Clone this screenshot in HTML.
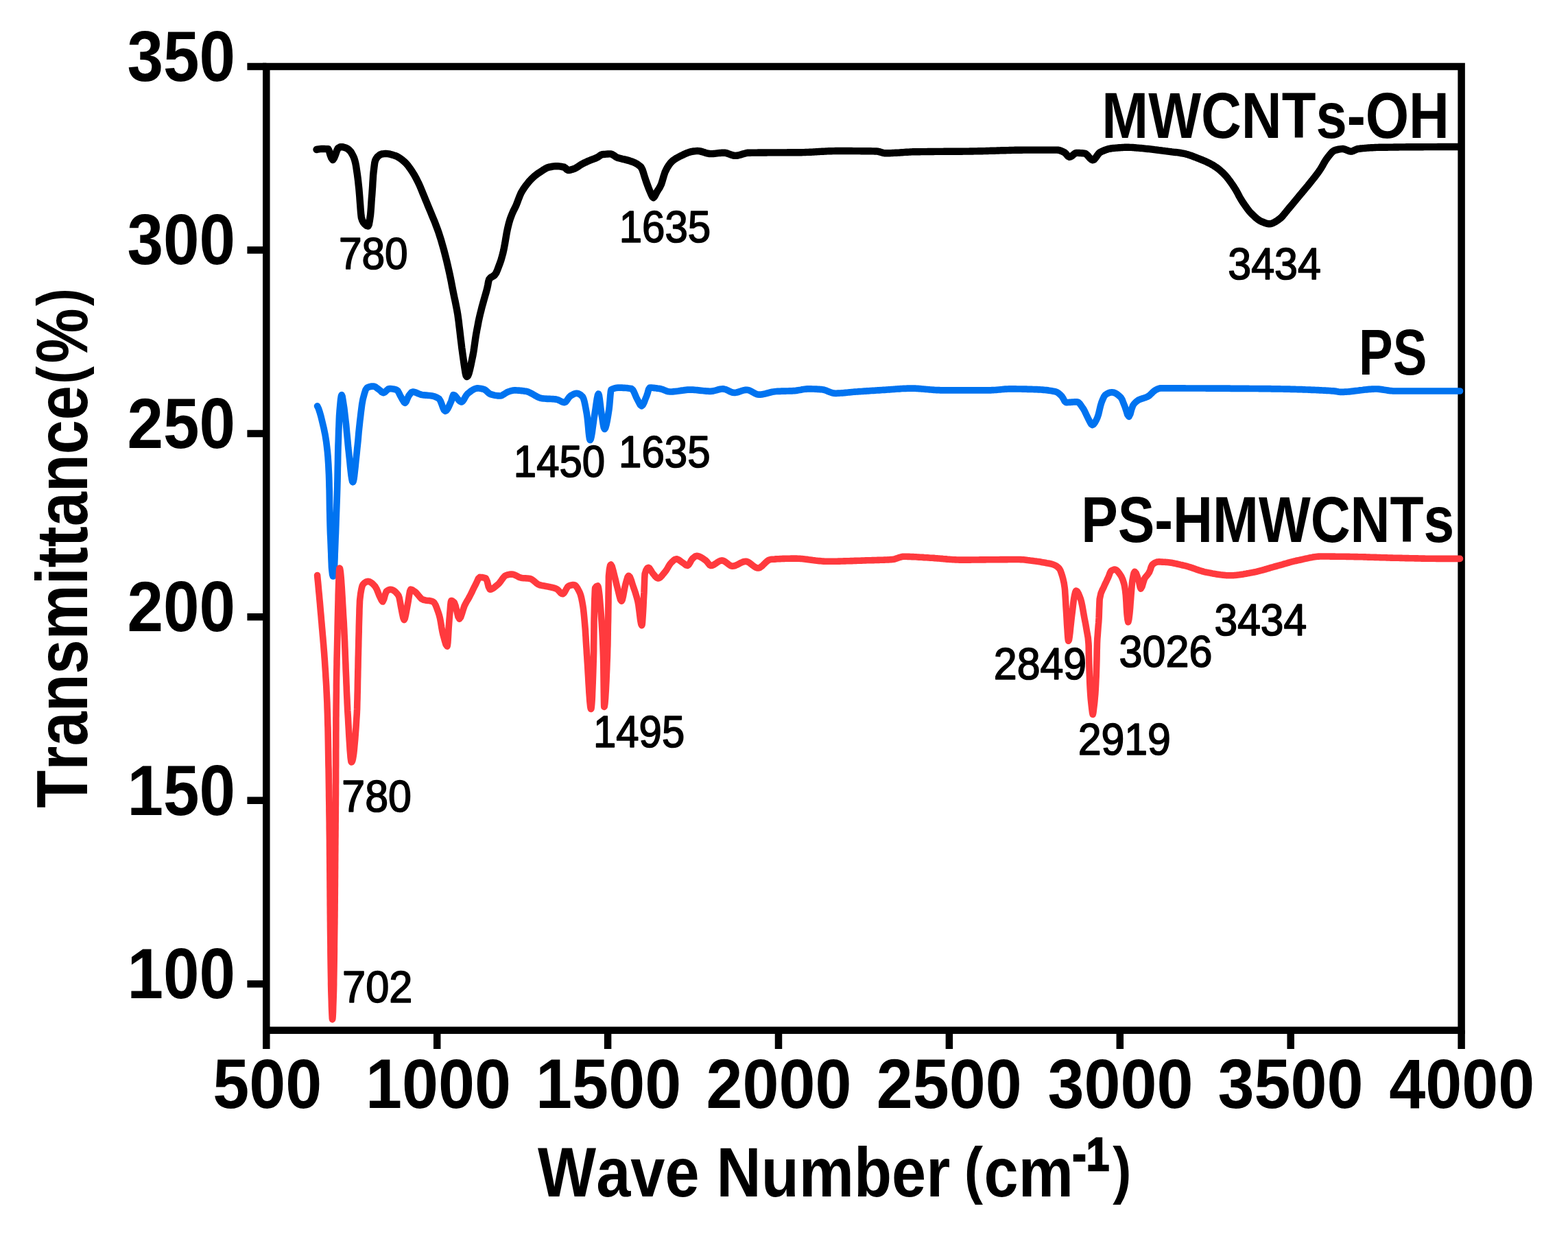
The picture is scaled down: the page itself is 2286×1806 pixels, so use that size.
<!DOCTYPE html>
<html lang="en"><head><meta charset="utf-8"><title>FTIR spectra</title>
<style>
html,body{margin:0;padding:0;background:#fff;}
body{width:2286px;height:1806px;overflow:hidden;}
svg{display:block;}
text{font-family:"Liberation Sans",sans-serif;font-size:100px;font-kerning:none;fill:#000;}
.b{font-weight:700;}
.r{font-weight:400;stroke:#000;stroke-width:2.6px;stroke-linejoin:round;}
.ax{stroke:#000;stroke-width:10.5;fill:none;stroke-linecap:butt;}
.c{fill:none;stroke-linejoin:round;stroke-linecap:round;}
</style></head><body>
<svg width="2286" height="1806" viewBox="0 0 2286 1806">
<rect width="2286" height="1806" fill="#fff"/>

<rect class="ax" x="388.3" y="97.0" width="1742.3" height="1404.8"/>
<path class="ax" d="M360.4 97.0H388.3 M360.4 364.4H388.3 M360.4 631.9H388.3 M360.4 899.3H388.3 M360.4 1166.8H388.3 M360.4 1434.2H388.3 M388.3 1501.8V1529 M637.2 1501.8V1529 M886.1 1501.8V1529 M1135.0 1501.8V1529 M1383.9 1501.8V1529 M1632.8 1501.8V1529 M1881.7 1501.8V1529 M2130.6 1501.8V1529"/>
<text class="b" transform="matrix(0.9448 0 0 1.0291 185.43 117.80)">350</text>
<text class="b" transform="matrix(0.9448 0 0 1.0291 185.43 385.25)">300</text>
<text class="b" transform="matrix(0.9448 0 0 1.0291 185.43 652.70)">250</text>
<text class="b" transform="matrix(0.9448 0 0 1.0291 185.43 920.15)">200</text>
<text class="b" transform="matrix(0.9448 0 0 1.0291 185.43 1187.60)">150</text>
<text class="b" transform="matrix(0.9448 0 0 1.0291 185.43 1455.05)">100</text>
<text class="b" transform="matrix(0.9532 0 0 1.0291 310.17 1614.80)">500</text>
<text class="b" transform="matrix(0.9532 0 0 1.0291 533.02 1614.80)">1000</text>
<text class="b" transform="matrix(0.9532 0 0 1.0291 781.12 1614.80)">1500</text>
<text class="b" transform="matrix(0.9532 0 0 1.0291 1029.47 1614.80)">2000</text>
<text class="b" transform="matrix(0.9532 0 0 1.0291 1277.67 1614.80)">2500</text>
<text class="b" transform="matrix(0.9532 0 0 1.0291 1527.53 1614.80)">3000</text>
<text class="b" transform="matrix(0.9532 0 0 1.0291 1775.43 1614.80)">3500</text>
<text class="b" transform="matrix(0.9532 0 0 1.0291 2025.21 1614.80)">4000</text>
<text class="b" transform="rotate(-90) scale(0.9007 1.0538)"><tspan x="-1307.52" y="120.52" font-size="100.0px">Transmittance</tspan><tspan x="-621.45" y="112.29" font-size="85.8px">(</tspan><tspan x="-588.02" y="120.52" font-size="100.0px">%</tspan><tspan x="-495.13" y="112.29" font-size="85.8px">)</tspan></text>
<text class="b" transform="matrix(0.9016 0 0 1.0218 0 0)"><tspan x="869.65" y="1706.49" font-size="100.0px">Wave Number </tspan><tspan x="1559.07" y="1700.08" font-size="90.8px">(</tspan><tspan x="1591.18" y="1706.49" font-size="100.0px">cm</tspan><tspan x="1734.22" y="1669.60" font-size="66.9px" stroke="#000" stroke-width="2.4">-1</tspan><tspan x="1799.18" y="1700.08" font-size="90.8px">)</tspan></text>
<text class="b" transform="matrix(0.8144 0 0 0.9448 1606.35 201.00)">MWCNTs-OH</text>
<text class="b" transform="matrix(0.7443 0 0 0.9375 1981.02 546.00)">PS</text>
<text class="b" transform="matrix(0.8028 0 0 0.9520 1576.23 790.30)">PS-HMWCNTs</text>
<text class="r" transform="matrix(0.6045 0 0 0.6424 493.90 392.40)">780</text>
<text class="r" transform="matrix(0.6001 0 0 0.6424 902.73 352.50)">1635</text>
<text class="r" transform="matrix(0.6100 0 0 0.6424 1790.28 406.60)">3434</text>
<text class="r" transform="matrix(0.5992 0 0 0.6424 748.84 694.70)">1450</text>
<text class="r" transform="matrix(0.6001 0 0 0.6424 902.03 680.60)">1635</text>
<text class="r" transform="matrix(0.6090 0 0 0.6424 498.28 1182.80)">780</text>
<text class="r" transform="matrix(0.6133 0 0 0.6424 499.06 1460.60)">702</text>
<text class="r" transform="matrix(0.5986 0 0 0.6424 865.04 1088.60)">1495</text>
<text class="r" transform="matrix(0.6084 0 0 0.6424 1448.84 990.30)">2849</text>
<text class="r" transform="matrix(0.6084 0 0 0.6424 1571.64 1099.90)">2919</text>
<text class="r" transform="matrix(0.6105 0 0 0.6424 1631.57 971.80)">3026</text>
<text class="r" transform="matrix(0.6049 0 0 0.6424 1770.60 925.80)">3434</text>
<path class="c" stroke="#000" stroke-width="10.4" d="M461.5 218.0 L463.3 217.7 L465.2 217.4 L467.0 217.2 L468.9 217.0 L470.7 217.0 L472.7 217.0 L474.6 217.1 L476.6 217.2 L478.6 217.3 L480.0 220.4 L481.3 225.1 L483.2 230.2 L485.2 233.0 L487.2 230.2 L489.2 225.1 L490.9 220.1 L492.7 216.3 L494.2 215.2 L495.6 214.4 L497.1 214.1 L499.1 214.2 L501.1 214.6 L503.0 215.2 L505.0 215.9 L506.7 216.8 L508.5 218.2 L510.2 219.9 L511.7 221.7 L513.1 224.1 L514.6 226.9 L516.0 229.9 L517.3 233.9 L518.2 237.5 L519.1 242.1 L519.9 247.5 L520.8 253.6 L521.7 260.2 L522.2 264.5 L522.7 269.4 L523.3 274.8 L523.8 280.6 L524.3 286.6 L524.7 292.3 L525.2 298.5 L525.6 304.1 L526.0 309.4 L526.5 314.3 L526.9 317.3 L528.4 321.7 L529.8 324.4 L531.3 326.1 L533.1 327.8 L534.8 329.1 L536.6 329.6 L537.8 327.2 L538.9 321.2 L540.1 312.9 L540.5 308.2 L541.0 301.8 L541.4 295.4 L541.8 289.6 L542.3 283.8 L542.7 277.8 L543.1 272.4 L543.4 266.5 L543.8 260.8 L544.1 255.6 L544.5 251.5 L545.4 243.8 L546.2 237.6 L547.1 233.9 L548.6 230.9 L550.0 228.9 L551.5 227.5 L553.3 226.1 L555.0 225.1 L556.8 224.5 L558.3 224.3 L559.8 224.1 L561.4 224.0 L562.9 224.0 L564.8 224.1 L566.7 224.3 L568.6 224.7 L570.4 225.2 L572.3 225.8 L574.2 226.4 L576.1 227.0 L578.0 227.7 L579.9 228.7 L581.8 229.8 L583.6 231.0 L585.5 232.4 L587.4 233.9 L589.3 235.5 L591.0 237.1 L592.8 239.0 L594.5 241.1 L596.3 243.4 L598.0 245.8 L599.8 248.4 L601.5 251.0 L603.2 253.7 L604.9 256.6 L606.6 259.8 L608.3 263.1 L610.0 266.5 L611.7 270.2 L613.4 274.1 L615.1 278.3 L616.8 282.5 L618.5 286.6 L620.3 291.0 L622.2 295.5 L624.0 300.0 L626.0 304.8 L628.0 309.5 L629.9 314.2 L631.9 319.0 L633.9 323.8 L635.8 328.9 L637.8 334.2 L639.8 339.8 L641.5 345.1 L643.3 350.8 L645.0 356.8 L646.8 363.1 L648.5 369.6 L649.9 375.1 L651.3 380.8 L652.7 386.7 L654.1 392.9 L655.5 399.2 L656.7 404.8 L657.9 410.7 L659.0 416.7 L660.2 422.8 L661.4 428.8 L662.6 434.5 L663.8 439.9 L664.9 445.5 L666.1 451.5 L667.3 458.4 L668.0 463.5 L668.8 469.3 L669.5 475.5 L670.3 481.9 L671.0 488.0 L671.7 494.1 L672.5 500.4 L673.2 506.6 L674.0 512.4 L674.7 517.6 L675.7 524.4 L676.7 531.4 L677.7 538.1 L678.6 543.7 L679.6 547.6 L680.6 549.0 L682.1 547.7 L683.6 544.0 L685.0 538.6 L686.5 532.0 L688.0 524.8 L689.5 517.6 L690.4 512.6 L691.3 506.6 L692.2 500.1 L693.1 493.7 L694.0 488.0 L695.2 481.4 L696.4 475.2 L697.5 469.2 L698.7 463.6 L699.9 458.4 L701.4 452.4 L702.8 446.8 L704.3 441.5 L705.8 436.2 L707.3 430.9 L708.8 425.7 L710.3 420.0 L711.3 415.2 L712.2 410.2 L713.2 407.0 L714.9 405.0 L716.5 403.9 L718.2 403.0 L719.8 402.0 L721.5 400.5 L723.4 397.6 L725.2 393.5 L727.0 388.7 L728.9 383.6 L730.4 379.3 L731.8 374.4 L733.3 368.8 L734.3 364.4 L735.3 359.3 L736.3 354.0 L737.1 349.1 L738.0 343.9 L738.8 339.2 L739.9 333.7 L741.1 328.7 L742.2 324.4 L743.6 319.7 L745.1 315.7 L746.5 312.0 L748.4 307.7 L750.3 303.9 L752.2 299.9 L754.1 295.3 L755.9 290.3 L757.8 285.5 L759.6 281.4 L761.4 278.2 L763.2 275.4 L764.9 272.8 L766.7 270.4 L768.5 268.1 L770.4 265.7 L772.3 263.5 L774.3 261.4 L776.2 259.5 L778.1 257.7 L780.0 256.1 L781.8 254.7 L783.7 253.3 L785.5 252.0 L787.4 250.8 L789.2 249.6 L791.1 248.4 L792.9 247.2 L794.8 246.1 L796.6 245.1 L798.4 244.3 L800.3 243.7 L802.1 243.3 L804.0 243.0 L805.8 242.7 L807.7 242.4 L809.5 242.3 L811.4 242.2 L813.2 242.2 L815.1 242.4 L817.0 242.6 L818.8 242.9 L820.6 243.3 L822.5 243.7 L824.5 245.1 L826.4 247.1 L828.4 248.1 L830.2 248.0 L832.0 247.6 L833.7 247.1 L835.5 246.5 L837.3 245.9 L839.1 245.1 L841.0 244.0 L842.8 242.8 L844.7 241.5 L846.5 240.3 L848.4 239.2 L850.2 238.2 L852.1 237.3 L854.0 236.5 L855.8 235.6 L857.6 234.8 L859.5 234.0 L861.4 233.2 L863.2 232.5 L865.0 231.9 L866.9 231.2 L868.8 230.4 L870.6 229.6 L872.5 228.5 L874.3 227.1 L876.1 225.9 L878.0 225.2 L880.0 225.0 L882.0 224.8 L884.0 224.6 L886.0 224.5 L888.0 224.4 L890.0 224.4 L892.0 224.8 L893.9 225.9 L895.9 227.2 L897.8 228.6 L899.8 229.6 L901.7 230.3 L903.7 230.8 L905.6 231.3 L907.5 231.8 L909.5 232.2 L911.4 232.6 L913.3 233.1 L915.2 233.6 L917.2 234.1 L919.1 234.8 L921.0 235.5 L923.0 236.2 L924.9 237.0 L926.8 237.9 L928.7 239.0 L930.6 240.3 L932.6 241.8 L934.5 243.6 L936.4 247.0 L938.2 252.4 L940.1 258.7 L942.0 264.4 L944.0 269.9 L946.0 275.3 L948.0 280.0 L949.5 283.5 L951.0 286.6 L952.5 288.0 L954.2 286.5 L955.8 283.3 L957.5 280.0 L959.1 277.4 L960.8 274.9 L962.4 272.1 L964.0 268.8 L965.8 263.2 L967.7 256.5 L969.5 251.0 L971.4 247.1 L973.3 243.6 L975.2 240.6 L977.1 238.1 L979.0 236.0 L980.8 234.3 L982.7 232.9 L984.5 231.6 L986.3 230.5 L988.2 229.5 L990.0 228.5 L991.9 227.5 L993.8 226.6 L995.7 225.7 L997.6 224.8 L999.5 223.9 L1001.5 223.1 L1003.4 222.4 L1005.3 221.8 L1007.2 221.2 L1009.1 220.8 L1011.0 220.5 L1012.9 220.3 L1014.8 220.1 L1016.7 220.0 L1018.6 220.1 L1020.6 220.4 L1022.5 220.9 L1024.4 221.4 L1026.3 222.0 L1028.3 222.7 L1030.2 223.2 L1032.1 223.7 L1034.1 224.0 L1036.0 224.1 L1038.0 224.1 L1039.9 224.0 L1041.8 223.8 L1043.8 223.6 L1045.8 223.4 L1047.7 223.2 L1049.7 223.0 L1051.6 222.8 L1053.5 222.7 L1055.5 222.7 L1057.3 222.8 L1059.2 223.2 L1061.0 223.8 L1062.8 224.5 L1064.7 225.1 L1066.5 225.8 L1068.3 226.4 L1070.2 226.8 L1072.0 226.9 L1074.0 226.8 L1075.9 226.5 L1077.9 226.0 L1079.8 225.5 L1081.8 224.8 L1083.8 224.2 L1085.7 223.7 L1087.7 223.2 L1089.6 222.8 L1091.6 222.7 L1093.6 222.7 L1095.5 222.6 L1097.5 222.6 L1099.5 222.6 L1101.5 222.6 L1103.4 222.6 L1105.4 222.5 L1107.4 222.5 L1109.3 222.5 L1111.3 222.5 L1113.3 222.5 L1115.3 222.5 L1117.2 222.5 L1119.2 222.4 L1121.2 222.4 L1123.1 222.4 L1125.1 222.4 L1127.1 222.4 L1129.0 222.4 L1131.0 222.4 L1133.0 222.4 L1135.0 222.4 L1136.9 222.4 L1138.9 222.4 L1140.9 222.4 L1142.8 222.4 L1144.8 222.4 L1146.8 222.4 L1148.8 222.3 L1150.7 222.3 L1152.7 222.3 L1154.7 222.3 L1156.6 222.3 L1158.6 222.3 L1160.6 222.3 L1162.6 222.2 L1164.5 222.2 L1166.5 222.2 L1168.5 222.2 L1170.5 222.1 L1172.4 222.1 L1174.4 222.0 L1176.4 221.9 L1178.4 221.9 L1180.4 221.8 L1182.4 221.7 L1184.3 221.6 L1186.3 221.5 L1188.3 221.4 L1190.3 221.2 L1192.3 221.1 L1194.2 221.0 L1196.2 220.9 L1198.2 220.8 L1200.2 220.7 L1202.2 220.6 L1204.2 220.5 L1206.1 220.4 L1208.1 220.3 L1210.1 220.2 L1212.1 220.2 L1214.1 220.1 L1216.1 220.1 L1218.0 220.0 L1220.0 220.0 L1222.0 220.0 L1224.0 220.0 L1226.0 220.0 L1227.9 220.0 L1229.9 220.0 L1231.9 220.0 L1233.9 220.0 L1235.9 220.0 L1237.9 220.0 L1239.8 220.0 L1241.8 220.0 L1243.8 220.1 L1245.8 220.1 L1247.8 220.1 L1249.8 220.1 L1251.7 220.1 L1253.7 220.1 L1255.7 220.2 L1257.7 220.2 L1259.7 220.2 L1261.6 220.2 L1263.6 220.3 L1265.6 220.3 L1267.6 220.3 L1269.6 220.3 L1271.6 220.4 L1273.5 220.4 L1275.5 220.5 L1277.5 220.5 L1279.5 220.7 L1281.5 221.1 L1283.5 221.6 L1285.4 222.2 L1287.4 222.8 L1289.4 223.2 L1291.4 223.3 L1293.4 223.3 L1295.4 223.3 L1297.3 223.2 L1299.3 223.1 L1301.3 223.0 L1303.3 222.9 L1305.3 222.8 L1307.2 222.7 L1309.2 222.6 L1311.2 222.5 L1313.2 222.3 L1315.2 222.2 L1317.2 222.1 L1319.1 221.9 L1321.1 221.8 L1323.1 221.7 L1325.1 221.6 L1327.1 221.5 L1329.0 221.4 L1331.0 221.3 L1333.0 221.3 L1335.0 221.3 L1337.0 221.2 L1339.0 221.2 L1340.9 221.2 L1342.9 221.1 L1344.9 221.1 L1346.9 221.1 L1348.9 221.1 L1350.8 221.1 L1352.8 221.0 L1354.8 221.0 L1356.8 221.0 L1358.8 221.0 L1360.8 221.0 L1362.8 220.9 L1364.7 220.9 L1366.7 220.9 L1368.7 220.9 L1370.7 220.9 L1372.7 220.9 L1374.7 220.9 L1376.6 220.8 L1378.6 220.8 L1380.6 220.8 L1382.6 220.8 L1384.6 220.8 L1386.5 220.8 L1388.5 220.8 L1390.5 220.8 L1392.5 220.7 L1394.5 220.7 L1396.5 220.7 L1398.5 220.7 L1400.4 220.7 L1402.4 220.7 L1404.4 220.6 L1406.4 220.6 L1408.4 220.6 L1410.3 220.6 L1412.3 220.6 L1414.3 220.5 L1416.3 220.5 L1418.3 220.5 L1420.3 220.4 L1422.2 220.4 L1424.2 220.4 L1426.2 220.3 L1428.2 220.3 L1430.2 220.2 L1432.2 220.2 L1434.1 220.1 L1436.1 220.1 L1438.1 220.0 L1440.1 220.0 L1442.1 219.9 L1444.1 219.8 L1446.0 219.8 L1448.0 219.7 L1450.0 219.7 L1452.0 219.6 L1454.0 219.5 L1456.0 219.5 L1457.9 219.4 L1459.9 219.3 L1461.9 219.3 L1463.9 219.2 L1465.9 219.2 L1467.9 219.1 L1469.8 219.1 L1471.8 219.0 L1473.8 219.0 L1475.8 218.9 L1477.8 218.9 L1479.8 218.8 L1481.8 218.8 L1483.7 218.7 L1485.7 218.7 L1487.7 218.7 L1489.7 218.7 L1491.7 218.6 L1493.6 218.6 L1495.6 218.6 L1497.6 218.6 L1499.6 218.6 L1501.6 218.6 L1503.6 218.6 L1505.5 218.6 L1507.5 218.6 L1509.5 218.6 L1511.5 218.6 L1513.5 218.6 L1515.4 218.6 L1517.4 218.6 L1519.4 218.6 L1521.4 218.6 L1523.4 218.6 L1525.4 218.6 L1527.3 218.6 L1529.3 218.6 L1531.3 218.6 L1533.3 218.6 L1535.3 218.6 L1537.2 218.6 L1539.2 218.6 L1541.2 218.6 L1543.0 218.7 L1544.7 219.1 L1546.5 219.7 L1548.3 220.5 L1550.0 221.3 L1551.8 222.2 L1553.7 223.8 L1555.5 226.0 L1557.3 227.9 L1559.2 228.8 L1560.9 228.4 L1562.7 227.3 L1564.4 225.8 L1566.1 224.4 L1567.9 223.3 L1569.6 222.9 L1571.6 222.9 L1573.5 223.0 L1575.5 223.1 L1577.5 223.2 L1579.4 223.4 L1581.4 223.6 L1583.4 224.5 L1585.4 226.3 L1587.3 228.6 L1589.3 230.9 L1591.3 232.6 L1593.3 233.3 L1595.0 232.6 L1596.7 230.8 L1598.4 228.4 L1600.2 225.9 L1601.9 223.7 L1603.6 222.2 L1605.6 221.2 L1607.6 220.2 L1609.5 219.4 L1611.5 218.6 L1613.5 217.9 L1615.5 217.3 L1617.4 216.8 L1619.4 216.5 L1621.4 216.2 L1623.2 216.0 L1625.1 215.8 L1627.0 215.6 L1628.8 215.5 L1630.7 215.3 L1632.5 215.2 L1634.3 215.1 L1636.2 215.0 L1638.0 214.9 L1639.9 214.8 L1641.8 214.8 L1643.6 214.8 L1645.6 214.8 L1647.5 214.9 L1649.5 214.9 L1651.5 215.0 L1653.5 215.2 L1655.4 215.3 L1657.4 215.5 L1659.4 215.6 L1661.4 215.8 L1663.3 216.0 L1665.3 216.2 L1667.3 216.4 L1669.3 216.6 L1671.2 216.8 L1673.2 217.0 L1675.2 217.2 L1677.1 217.4 L1679.1 217.6 L1681.1 217.8 L1683.1 218.1 L1685.0 218.3 L1687.0 218.6 L1689.0 218.9 L1691.0 219.1 L1692.9 219.4 L1694.9 219.7 L1696.9 219.9 L1698.9 220.2 L1700.8 220.4 L1702.8 220.7 L1704.6 220.9 L1706.5 221.1 L1708.3 221.4 L1710.2 221.6 L1712.0 221.8 L1713.9 222.0 L1715.8 222.2 L1717.6 222.4 L1719.5 222.7 L1721.3 223.0 L1723.2 223.3 L1725.0 223.6 L1726.8 224.0 L1728.7 224.4 L1730.5 224.9 L1732.4 225.5 L1734.2 226.1 L1736.1 226.7 L1738.0 227.4 L1739.8 228.1 L1741.7 228.8 L1743.5 229.5 L1745.4 230.3 L1747.2 231.0 L1749.0 231.7 L1750.9 232.5 L1752.8 233.2 L1754.6 234.0 L1756.5 234.8 L1758.3 235.6 L1760.2 236.5 L1762.0 237.4 L1763.9 238.3 L1765.7 239.3 L1767.6 240.3 L1769.4 241.4 L1771.2 242.6 L1773.1 243.8 L1775.0 245.2 L1776.8 246.6 L1778.7 248.2 L1780.5 249.8 L1782.4 251.5 L1784.2 253.3 L1786.0 255.2 L1787.9 257.3 L1789.8 259.6 L1791.6 262.0 L1793.5 264.5 L1795.3 267.1 L1797.2 269.8 L1799.0 272.5 L1801.0 275.7 L1803.0 279.2 L1805.0 282.8 L1806.9 286.5 L1808.9 290.0 L1810.9 293.2 L1812.8 296.1 L1814.7 298.9 L1816.6 301.6 L1818.5 304.2 L1820.4 306.7 L1822.3 309.0 L1824.2 311.0 L1826.0 312.8 L1827.9 314.6 L1829.8 316.4 L1831.6 318.0 L1833.5 319.5 L1835.3 320.8 L1837.2 321.9 L1839.0 322.8 L1841.0 323.6 L1843.0 324.5 L1845.0 325.2 L1847.0 325.8 L1849.0 326.2 L1851.0 326.3 L1852.9 326.1 L1854.8 325.5 L1856.7 324.7 L1858.7 323.7 L1860.6 322.5 L1862.5 321.2 L1864.4 319.9 L1866.2 318.5 L1868.1 316.8 L1870.0 314.8 L1871.8 312.7 L1873.7 310.4 L1875.5 308.1 L1877.4 305.8 L1879.2 303.6 L1881.0 301.4 L1882.9 299.3 L1884.8 297.0 L1886.6 294.8 L1888.5 292.5 L1890.3 290.3 L1892.2 288.0 L1894.0 285.8 L1895.8 283.6 L1897.7 281.4 L1899.5 279.2 L1901.4 277.0 L1903.2 274.8 L1905.1 272.5 L1907.0 270.3 L1908.8 268.0 L1910.6 265.7 L1912.5 263.4 L1914.3 261.1 L1916.2 258.8 L1918.0 256.4 L1919.9 253.9 L1921.8 251.4 L1923.6 248.8 L1925.6 245.7 L1927.6 242.4 L1929.5 238.9 L1931.5 235.5 L1933.5 232.3 L1935.5 229.6 L1937.2 227.4 L1938.9 225.3 L1940.7 223.2 L1942.4 221.4 L1944.1 220.1 L1945.8 219.2 L1947.8 218.6 L1949.8 218.1 L1951.8 217.6 L1953.7 217.3 L1955.7 217.1 L1957.7 217.0 L1959.7 217.3 L1961.6 218.0 L1963.6 218.8 L1965.6 219.7 L1967.5 220.4 L1969.5 220.7 L1971.2 220.5 L1973.0 219.8 L1974.7 219.0 L1976.4 218.2 L1978.2 217.4 L1979.9 217.0 L1981.8 216.8 L1983.7 216.5 L1985.6 216.3 L1987.5 216.1 L1989.5 216.0 L1991.4 215.8 L1993.3 215.6 L1995.2 215.5 L1997.1 215.4 L1999.0 215.3 L2000.9 215.2 L2002.8 215.1 L2004.8 215.0 L2006.7 214.9 L2008.6 214.9 L2010.5 214.8 L2012.4 214.8 L2014.4 214.8 L2016.4 214.7 L2018.4 214.7 L2020.4 214.7 L2022.4 214.7 L2024.4 214.6 L2026.4 214.6 L2028.4 214.6 L2030.4 214.6 L2032.4 214.5 L2034.4 214.5 L2036.4 214.5 L2038.4 214.5 L2040.4 214.4 L2042.4 214.4 L2044.4 214.4 L2046.4 214.4 L2048.4 214.4 L2050.4 214.3 L2052.4 214.3 L2054.4 214.3 L2056.4 214.3 L2058.4 214.3 L2060.4 214.3 L2062.4 214.2 L2064.4 214.2 L2066.4 214.2 L2068.4 214.2 L2070.4 214.2 L2072.4 214.2 L2074.4 214.2 L2076.4 214.1 L2078.4 214.1 L2080.4 214.1 L2082.4 214.1 L2084.4 214.1 L2086.4 214.1 L2088.4 214.1 L2090.4 214.1 L2092.4 214.1 L2094.4 214.1 L2096.4 214.0 L2098.4 214.0 L2100.4 214.0 L2102.4 214.0 L2104.4 214.0 L2106.4 214.0 L2108.4 214.0 L2110.4 214.0 L2112.4 214.0 L2114.4 214.0 L2116.4 214.0 L2118.4 214.0 L2120.4 214.0 L2122.4 214.0 L2124.4 214.0 L2126.4 214.0"/>
<path class="c" stroke="#0073f0" stroke-width="9.7" d="M462.6 591.8 L464.4 595.5 L466.1 600.6 L467.9 606.8 L469.6 613.8 L471.4 621.4 L472.3 625.2 L473.1 629.2 L474.0 633.5 L474.8 638.4 L475.7 644.1 L476.5 650.7 L477.4 658.4 L477.7 662.0 L478.1 666.3 L478.4 671.2 L478.8 676.9 L479.1 683.6 L479.5 691.3 L479.8 700.0 L479.9 703.9 L480.0 709.1 L480.2 715.1 L480.3 721.8 L480.4 728.8 L480.5 735.9 L480.6 742.9 L480.8 749.4 L480.9 755.2 L481.0 760.0 L481.2 767.1 L481.4 773.5 L481.6 779.2 L481.9 784.6 L482.1 789.7 L482.3 794.8 L482.5 800.0 L482.8 806.8 L483.0 814.0 L483.3 820.7 L483.5 826.3 L483.8 830.0 L484.6 837.0 L485.5 840.0 L486.4 837.0 L487.2 830.0 L487.5 826.3 L487.7 820.7 L488.0 814.0 L488.2 806.8 L488.5 800.0 L488.7 794.6 L488.9 789.1 L489.1 783.5 L489.4 777.8 L489.6 771.9 L489.8 766.0 L490.0 760.0 L490.2 754.5 L490.4 749.1 L490.6 743.7 L490.8 738.4 L491.0 732.9 L491.2 727.1 L491.4 721.0 L491.6 714.6 L491.8 707.6 L492.0 700.0 L492.1 694.9 L492.2 688.8 L492.3 682.3 L492.5 675.5 L492.6 669.0 L492.7 663.2 L492.8 658.4 L493.0 650.2 L493.3 642.4 L493.5 635.1 L493.7 628.2 L494.0 621.9 L494.2 616.1 L494.4 610.9 L494.6 606.3 L494.9 602.4 L495.1 599.2 L495.9 590.3 L496.6 582.7 L497.4 577.5 L498.1 575.5 L499.1 577.9 L500.0 583.6 L501.0 590.0 L501.8 595.1 L502.5 601.0 L503.2 607.4 L504.0 614.0 L504.6 619.1 L505.1 624.6 L505.6 630.4 L506.2 636.3 L506.8 642.2 L507.3 648.0 L507.8 653.4 L508.4 658.4 L509.1 665.2 L509.9 672.6 L510.6 680.0 L511.4 687.1 L512.1 693.3 L512.9 698.3 L513.6 701.6 L514.4 702.8 L515.1 701.6 L515.9 698.3 L516.6 693.3 L517.3 687.0 L518.1 680.0 L518.8 672.5 L519.6 665.2 L520.3 658.4 L520.8 653.3 L521.4 647.8 L522.0 642.0 L522.5 636.1 L523.0 630.1 L523.6 624.4 L524.2 618.9 L524.7 614.0 L525.5 607.6 L526.2 601.3 L527.0 595.2 L527.7 589.7 L528.5 585.1 L529.2 581.4 L531.2 573.9 L533.1 568.0 L535.1 565.2 L536.9 564.4 L538.7 563.8 L540.4 563.4 L542.2 563.1 L544.0 563.0 L545.8 563.3 L547.6 564.2 L549.3 565.5 L551.1 566.8 L552.9 568.1 L554.9 569.8 L556.8 571.7 L558.8 572.6 L560.6 572.0 L562.4 570.5 L564.1 568.7 L565.9 567.2 L567.7 566.6 L569.4 566.6 L571.1 566.8 L572.9 567.0 L574.6 567.3 L576.3 567.7 L578.0 568.1 L579.9 569.7 L581.7 572.9 L583.5 576.7 L585.4 580.0 L587.1 583.1 L588.9 586.1 L590.6 587.4 L592.3 585.2 L594.1 580.7 L595.8 577.0 L597.8 574.3 L599.7 572.0 L601.7 571.1 L603.6 571.3 L605.5 571.9 L607.4 572.6 L609.3 573.5 L611.2 574.3 L613.1 575.0 L615.0 575.5 L616.9 575.8 L618.7 575.9 L620.5 576.1 L622.4 576.2 L624.2 576.4 L626.1 576.5 L627.9 576.7 L629.8 577.0 L631.5 577.4 L633.3 577.9 L635.0 578.5 L636.7 579.3 L638.5 580.3 L640.2 581.4 L642.0 584.1 L643.8 588.6 L645.5 593.5 L647.3 597.6 L649.1 599.2 L650.9 598.3 L652.7 595.9 L654.4 592.5 L656.2 588.5 L658.0 584.4 L659.5 579.1 L660.9 575.5 L662.9 576.3 L664.8 578.2 L666.8 580.7 L668.8 583.2 L670.7 585.1 L672.7 585.9 L674.5 584.9 L676.3 582.4 L678.0 579.2 L679.8 576.2 L681.6 574.0 L683.5 572.5 L685.3 571.1 L687.1 569.7 L689.0 568.5 L690.9 567.4 L692.7 566.6 L694.5 566.1 L696.4 565.9 L698.2 566.0 L700.0 566.2 L701.7 566.5 L703.5 566.9 L705.3 567.4 L707.0 568.2 L708.8 569.5 L710.5 571.1 L712.2 572.7 L714.0 574.0 L715.7 574.8 L717.6 575.3 L719.5 575.8 L721.4 576.2 L723.3 576.5 L725.2 576.8 L727.1 576.9 L729.0 577.0 L731.0 576.7 L732.9 575.7 L734.9 574.5 L736.9 573.2 L738.8 572.0 L740.8 571.1 L742.6 570.5 L744.5 569.9 L746.3 569.4 L748.2 569.0 L750.0 568.9 L751.8 568.9 L753.7 569.0 L755.5 569.1 L757.4 569.2 L759.2 569.4 L761.1 569.6 L762.9 569.8 L764.8 570.1 L766.6 570.3 L768.6 570.7 L770.5 571.4 L772.5 572.3 L774.5 573.3 L776.5 574.4 L778.5 575.6 L780.4 576.7 L782.4 577.8 L784.4 578.8 L786.3 579.7 L788.3 580.3 L790.3 580.7 L792.2 580.9 L794.1 581.0 L795.9 581.2 L797.8 581.3 L799.7 581.3 L801.6 581.4 L803.5 581.5 L805.4 581.6 L807.2 581.7 L809.1 581.9 L811.0 582.1 L813.0 582.6 L815.0 583.5 L817.0 584.5 L818.9 585.5 L820.9 586.3 L822.9 586.6 L824.7 585.8 L826.5 583.7 L828.2 581.1 L830.0 578.7 L831.8 577.0 L833.6 575.9 L835.4 574.9 L837.1 574.1 L838.9 573.5 L840.7 573.3 L842.5 573.5 L844.2 574.2 L846.0 575.2 L847.7 576.7 L849.5 578.4 L850.7 580.8 L851.9 585.0 L853.1 590.6 L854.3 596.9 L855.5 603.6 L856.2 608.5 L856.9 615.0 L857.6 622.2 L858.2 629.4 L858.9 635.5 L859.6 639.9 L860.3 641.5 L861.3 640.0 L862.2 636.1 L863.2 630.5 L864.1 623.7 L865.1 616.5 L866.0 609.6 L867.0 603.6 L868.1 596.6 L869.2 588.8 L870.3 581.5 L871.4 576.1 L872.5 574.0 L873.4 576.3 L874.3 582.0 L875.2 589.5 L876.1 597.3 L877.0 603.6 L878.1 610.5 L879.2 617.7 L880.3 623.2 L881.4 625.5 L882.7 623.8 L884.0 619.2 L885.4 612.5 L886.7 604.6 L888.0 596.2 L888.6 590.9 L889.2 583.8 L889.8 576.4 L890.4 570.7 L891.0 568.1 L893.0 567.0 L894.9 566.3 L896.9 565.7 L898.9 565.3 L900.8 565.2 L902.8 565.1 L904.8 565.1 L906.8 565.2 L908.7 565.3 L910.7 565.4 L912.7 565.5 L914.7 565.7 L916.6 566.0 L918.6 566.3 L920.6 566.6 L922.4 568.0 L924.2 571.2 L925.9 575.2 L927.7 579.4 L929.5 582.9 L931.5 586.6 L933.4 590.2 L935.4 591.8 L937.2 590.3 L939.1 586.6 L940.9 581.7 L942.8 577.0 L944.3 572.4 L945.7 567.4 L947.2 565.1 L949.1 565.1 L950.9 565.2 L952.8 565.4 L954.6 565.6 L956.5 565.8 L958.3 566.1 L960.1 566.3 L962.0 566.6 L963.9 567.0 L965.7 567.6 L967.5 568.3 L969.4 569.1 L971.2 569.8 L973.1 570.4 L974.9 570.8 L976.8 571.0 L978.8 571.0 L980.7 570.9 L982.7 570.7 L984.7 570.5 L986.7 570.2 L988.6 570.0 L990.6 569.7 L992.6 569.4 L994.6 569.1 L996.5 568.9 L998.5 568.6 L1000.5 568.4 L1002.5 568.2 L1004.4 568.1 L1006.4 568.1 L1008.4 568.1 L1010.3 568.2 L1012.3 568.3 L1014.3 568.5 L1016.3 568.7 L1018.2 568.9 L1020.2 569.1 L1022.2 569.3 L1024.2 569.5 L1026.1 569.7 L1028.1 569.9 L1030.1 570.1 L1032.1 570.2 L1034.0 570.3 L1036.0 570.3 L1038.0 570.2 L1040.0 569.9 L1042.0 569.4 L1044.0 568.9 L1045.9 568.3 L1047.9 567.8 L1049.9 567.3 L1051.9 567.0 L1053.9 566.9 L1055.7 567.1 L1057.6 567.6 L1059.4 568.3 L1061.3 569.2 L1063.1 570.1 L1065.0 571.0 L1066.8 571.7 L1068.7 572.2 L1070.5 572.4 L1072.3 572.3 L1074.1 572.0 L1075.9 571.5 L1077.7 571.0 L1079.5 570.3 L1081.4 569.7 L1083.2 569.2 L1085.0 568.7 L1086.8 568.4 L1088.6 568.3 L1090.6 568.5 L1092.6 569.2 L1094.6 570.1 L1096.6 571.2 L1098.6 572.3 L1100.6 573.4 L1102.6 574.3 L1104.6 575.0 L1106.6 575.2 L1108.5 575.1 L1110.4 574.9 L1112.4 574.6 L1114.3 574.2 L1116.2 573.8 L1118.1 573.3 L1120.1 572.8 L1122.0 572.3 L1123.9 571.8 L1125.8 571.3 L1127.8 571.0 L1129.7 570.7 L1131.6 570.5 L1133.5 570.4 L1135.4 570.3 L1137.4 570.3 L1139.3 570.2 L1141.2 570.2 L1143.1 570.1 L1145.1 570.1 L1147.0 570.0 L1148.9 570.0 L1150.8 569.9 L1152.8 569.9 L1154.7 569.8 L1156.6 569.7 L1158.4 569.6 L1160.3 569.4 L1162.1 569.1 L1164.0 568.8 L1165.8 568.5 L1167.7 568.2 L1169.5 567.8 L1171.4 567.5 L1173.2 567.3 L1175.1 567.1 L1177.0 566.9 L1178.8 566.9 L1180.7 566.9 L1182.7 566.9 L1184.6 567.0 L1186.6 567.0 L1188.5 567.1 L1190.4 567.2 L1192.4 567.3 L1194.3 567.4 L1196.3 567.6 L1198.2 567.7 L1200.1 568.0 L1202.1 568.5 L1204.0 569.1 L1206.0 569.9 L1207.9 570.7 L1209.8 571.5 L1211.8 572.2 L1213.7 572.8 L1215.7 573.2 L1217.6 573.3 L1219.5 573.3 L1221.4 573.2 L1223.3 573.1 L1225.2 573.0 L1227.2 572.9 L1229.1 572.8 L1231.0 572.6 L1232.9 572.4 L1234.8 572.2 L1236.7 572.0 L1238.6 571.8 L1240.5 571.7 L1242.5 571.5 L1244.4 571.3 L1246.3 571.1 L1248.2 571.0 L1250.2 570.9 L1252.2 570.7 L1254.1 570.6 L1256.1 570.5 L1258.1 570.3 L1260.1 570.2 L1262.1 570.1 L1264.0 569.9 L1266.0 569.8 L1268.0 569.7 L1270.0 569.5 L1272.0 569.4 L1274.0 569.3 L1275.9 569.2 L1277.9 569.0 L1279.9 568.9 L1281.9 568.8 L1283.9 568.7 L1285.8 568.5 L1287.8 568.4 L1289.8 568.3 L1291.7 568.2 L1293.7 568.0 L1295.6 567.9 L1297.6 567.8 L1299.5 567.6 L1301.4 567.5 L1303.4 567.3 L1305.3 567.2 L1307.3 567.0 L1309.2 566.9 L1311.1 566.8 L1313.1 566.6 L1315.0 566.5 L1317.0 566.4 L1318.9 566.3 L1320.8 566.3 L1322.8 566.2 L1324.7 566.1 L1326.7 566.1 L1328.6 566.1 L1330.5 566.1 L1332.5 566.2 L1334.4 566.2 L1336.3 566.3 L1338.3 566.4 L1340.2 566.6 L1342.1 566.7 L1344.0 566.9 L1346.0 567.0 L1347.9 567.2 L1349.8 567.4 L1351.8 567.5 L1353.7 567.7 L1355.6 567.9 L1357.6 568.0 L1359.5 568.2 L1361.4 568.3 L1363.3 568.5 L1365.3 568.6 L1367.2 568.7 L1369.1 568.7 L1371.1 568.8 L1373.0 568.8 L1375.0 568.8 L1377.0 568.8 L1378.9 568.8 L1380.9 568.8 L1382.9 568.8 L1384.9 568.8 L1386.9 568.8 L1388.9 568.8 L1390.8 568.8 L1392.8 568.8 L1394.8 568.8 L1396.8 568.8 L1398.8 568.8 L1400.8 568.8 L1402.7 568.8 L1404.7 568.8 L1406.7 568.8 L1408.7 568.8 L1410.7 568.8 L1412.7 568.8 L1414.6 568.8 L1416.6 568.8 L1418.6 568.8 L1420.6 568.8 L1422.6 568.8 L1424.6 568.8 L1426.5 568.8 L1428.5 568.8 L1430.5 568.8 L1432.5 568.8 L1434.5 568.8 L1436.5 568.8 L1438.4 568.8 L1440.4 568.8 L1442.4 568.8 L1444.3 568.8 L1446.2 568.7 L1448.1 568.6 L1450.1 568.5 L1452.0 568.4 L1453.9 568.2 L1455.8 568.0 L1457.7 567.9 L1459.6 567.7 L1461.5 567.5 L1463.4 567.3 L1465.3 567.2 L1467.3 567.1 L1469.2 567.0 L1471.1 566.9 L1473.0 566.9 L1474.9 566.9 L1476.9 566.9 L1478.8 566.9 L1480.8 566.9 L1482.7 567.0 L1484.6 567.0 L1486.6 567.0 L1488.5 567.0 L1490.5 567.1 L1492.4 567.1 L1494.3 567.2 L1496.3 567.2 L1498.2 567.3 L1500.2 567.3 L1502.1 567.4 L1504.0 567.4 L1506.0 567.5 L1507.9 567.6 L1509.9 567.6 L1511.8 567.7 L1513.8 567.8 L1515.7 567.9 L1517.7 568.0 L1519.6 568.1 L1521.6 568.3 L1523.5 568.5 L1525.5 568.7 L1527.5 568.9 L1529.4 569.2 L1531.4 569.5 L1533.3 569.8 L1535.3 570.2 L1537.2 570.6 L1539.2 571.0 L1541.0 571.7 L1542.8 572.8 L1544.5 574.2 L1546.3 575.9 L1548.1 577.7 L1550.1 580.9 L1552.0 584.7 L1554.0 586.6 L1555.8 586.6 L1557.6 586.5 L1559.4 586.4 L1561.2 586.3 L1563.1 586.1 L1564.9 586.0 L1566.7 585.9 L1568.5 585.8 L1570.3 585.8 L1572.1 586.4 L1573.9 588.0 L1575.6 590.3 L1577.4 592.9 L1579.2 595.5 L1581.0 598.7 L1582.9 602.6 L1584.8 606.7 L1586.6 610.3 L1588.6 614.2 L1590.5 617.9 L1592.5 619.5 L1594.3 618.6 L1596.2 616.1 L1598.1 612.7 L1599.9 608.8 L1601.4 604.3 L1602.9 598.0 L1604.4 591.6 L1605.9 586.6 L1607.8 581.9 L1609.6 577.9 L1611.5 575.5 L1613.4 574.3 L1615.3 573.3 L1617.2 572.5 L1619.1 572.0 L1621.0 571.8 L1622.9 572.0 L1624.7 572.5 L1626.6 573.4 L1628.4 574.5 L1630.3 575.9 L1632.1 577.4 L1634.0 579.2 L1636.0 582.5 L1637.9 587.4 L1639.9 592.5 L1641.9 598.4 L1643.8 604.5 L1645.8 607.3 L1647.8 603.7 L1649.7 596.5 L1651.7 591.0 L1653.5 588.5 L1655.4 586.5 L1657.2 584.9 L1659.1 583.6 L1660.9 582.6 L1662.8 581.8 L1664.7 581.2 L1666.5 580.6 L1668.3 580.0 L1670.2 579.4 L1672.1 578.6 L1673.9 577.7 L1675.6 576.5 L1677.4 574.9 L1679.1 573.2 L1680.8 571.5 L1682.6 570.0 L1684.3 568.8 L1686.2 567.8 L1688.0 566.9 L1689.8 566.2 L1691.7 565.9 L1693.7 565.9 L1695.7 565.9 L1697.6 565.9 L1699.6 565.9 L1701.6 565.9 L1703.6 565.9 L1705.5 565.9 L1707.5 565.9 L1709.5 565.9 L1711.5 565.9 L1713.5 565.9 L1715.4 565.9 L1717.4 565.9 L1719.4 565.9 L1721.4 565.9 L1723.3 565.9 L1725.3 565.9 L1727.3 565.9 L1729.3 566.0 L1731.2 566.0 L1733.2 566.0 L1735.2 566.0 L1737.2 566.0 L1739.2 566.0 L1741.1 566.0 L1743.1 566.0 L1745.1 566.0 L1747.1 566.0 L1749.0 566.0 L1751.0 566.0 L1753.0 566.0 L1755.0 566.0 L1757.0 566.0 L1758.9 566.1 L1760.9 566.1 L1762.9 566.1 L1764.9 566.1 L1766.8 566.1 L1768.8 566.1 L1770.8 566.1 L1772.8 566.1 L1774.7 566.1 L1776.7 566.1 L1778.7 566.2 L1780.7 566.2 L1782.7 566.2 L1784.6 566.2 L1786.6 566.2 L1788.6 566.2 L1790.6 566.2 L1792.5 566.2 L1794.5 566.3 L1796.5 566.3 L1798.5 566.3 L1800.5 566.3 L1802.4 566.3 L1804.4 566.3 L1806.4 566.3 L1808.4 566.3 L1810.3 566.4 L1812.3 566.4 L1814.3 566.4 L1816.3 566.4 L1818.2 566.4 L1820.2 566.4 L1822.2 566.5 L1824.2 566.5 L1826.2 566.5 L1828.1 566.5 L1830.1 566.5 L1832.1 566.5 L1834.1 566.5 L1836.0 566.6 L1838.0 566.6 L1840.0 566.6 L1842.0 566.6 L1844.0 566.6 L1846.0 566.7 L1848.0 566.7 L1850.0 566.7 L1852.0 566.7 L1854.0 566.8 L1856.0 566.8 L1858.0 566.8 L1860.0 566.8 L1862.0 566.9 L1864.0 566.9 L1866.0 566.9 L1868.0 567.0 L1870.0 567.0 L1872.0 567.1 L1874.0 567.1 L1876.0 567.1 L1878.0 567.2 L1880.0 567.2 L1882.0 567.3 L1884.0 567.3 L1886.0 567.4 L1888.0 567.4 L1890.0 567.5 L1892.0 567.6 L1894.0 567.6 L1896.0 567.7 L1898.0 567.7 L1900.0 567.8 L1902.0 567.9 L1904.0 568.0 L1906.0 568.0 L1908.0 568.1 L1910.0 568.2 L1912.0 568.3 L1914.0 568.3 L1916.0 568.4 L1918.0 568.5 L1920.0 568.6 L1922.0 568.7 L1924.0 568.8 L1926.0 568.9 L1928.0 569.0 L1930.0 569.1 L1932.0 569.2 L1934.0 569.3 L1936.0 569.4 L1938.0 569.5 L1940.0 569.7 L1942.0 569.8 L1944.0 569.9 L1945.8 570.1 L1947.7 570.4 L1949.5 570.7 L1951.3 571.1 L1953.2 571.3 L1955.0 571.4 L1957.0 571.4 L1958.9 571.3 L1960.9 571.2 L1962.8 571.1 L1964.8 571.0 L1966.8 570.8 L1968.7 570.6 L1970.7 570.4 L1972.7 570.2 L1974.6 569.9 L1976.6 569.7 L1978.5 569.5 L1980.5 569.2 L1982.5 568.9 L1984.4 568.7 L1986.4 568.5 L1988.3 568.2 L1990.3 568.0 L1992.3 567.8 L1994.2 567.6 L1996.2 567.4 L1998.2 567.3 L2000.1 567.2 L2002.1 567.1 L2004.0 567.0 L2006.0 567.0 L2007.9 567.0 L2009.9 567.2 L2011.8 567.4 L2013.7 567.6 L2015.6 567.9 L2017.6 568.2 L2019.5 568.5 L2021.4 568.8 L2023.4 569.1 L2025.3 569.4 L2027.2 569.6 L2029.1 569.8 L2031.1 570.0 L2033.0 570.0 L2035.0 570.0 L2037.0 570.0 L2039.0 570.0 L2041.0 570.0 L2042.9 570.0 L2044.9 570.0 L2046.9 570.0 L2048.9 570.0 L2050.9 570.0 L2052.9 570.0 L2054.9 570.0 L2056.9 570.0 L2058.9 570.0 L2060.9 570.0 L2062.8 570.0 L2064.8 570.0 L2066.8 570.0 L2068.8 570.0 L2070.8 570.0 L2072.8 570.0 L2074.8 570.0 L2076.8 570.0 L2078.8 570.0 L2080.8 570.0 L2082.7 570.0 L2084.7 570.0 L2086.7 570.0 L2088.7 570.0 L2090.7 570.0 L2092.7 570.0 L2094.7 570.0 L2096.7 570.0 L2098.7 570.0 L2100.6 570.0 L2102.6 570.0 L2104.6 570.0 L2106.6 570.0 L2108.6 570.0 L2110.6 570.0 L2112.6 570.0 L2114.6 570.0 L2116.6 570.0 L2118.6 570.0 L2120.5 570.0 L2122.5 570.0 L2124.5 570.0 L2126.5 570.0 L2128.5 570.0"/>
<path class="c" stroke="#ff3a3e" stroke-width="9.6" d="M462.6 838.5 L463.1 844.1 L463.7 849.7 L464.2 855.4 L464.7 861.2 L465.3 867.0 L465.8 872.9 L466.4 878.9 L466.9 885.0 L467.4 891.1 L468.0 897.3 L468.5 903.6 L469.0 908.9 L469.4 914.0 L469.9 919.2 L470.3 924.3 L470.8 929.5 L471.2 934.7 L471.7 940.1 L472.1 945.7 L472.6 951.5 L473.0 957.5 L473.5 963.8 L473.9 970.5 L474.4 977.6 L474.7 982.0 L474.9 986.4 L475.2 991.0 L475.5 995.7 L475.8 1000.7 L476.0 1006.0 L476.3 1011.7 L476.6 1017.9 L476.9 1024.5 L477.1 1031.8 L477.4 1039.8 L477.5 1043.3 L477.6 1047.2 L477.7 1051.5 L477.8 1056.0 L478.0 1060.8 L478.1 1065.9 L478.2 1071.3 L478.3 1076.9 L478.4 1082.7 L478.5 1088.8 L478.6 1095.0 L478.7 1101.4 L478.8 1108.0 L478.9 1114.8 L479.1 1121.6 L479.2 1128.6 L479.3 1135.6 L479.4 1142.8 L479.5 1150.0 L479.6 1154.9 L479.6 1159.9 L479.7 1165.1 L479.8 1170.4 L479.9 1176.0 L479.9 1181.6 L480.0 1187.5 L480.1 1193.4 L480.2 1199.6 L480.2 1205.9 L480.3 1212.4 L480.4 1219.1 L480.5 1225.9 L480.5 1232.8 L480.6 1240.0 L480.6 1244.9 L480.7 1250.1 L480.7 1255.6 L480.8 1261.4 L480.8 1267.5 L480.9 1273.7 L480.9 1280.0 L481.0 1286.4 L481.0 1292.9 L481.1 1299.4 L481.1 1305.8 L481.2 1312.1 L481.2 1318.3 L481.3 1324.3 L481.3 1330.1 L481.4 1335.6 L481.4 1340.8 L481.5 1345.6 L481.5 1350.0 L481.6 1357.7 L481.7 1365.4 L481.8 1372.8 L481.9 1380.1 L481.9 1387.2 L482.0 1394.1 L482.1 1400.7 L482.2 1407.1 L482.3 1413.3 L482.4 1419.1 L482.5 1424.6 L482.6 1429.8 L482.6 1434.6 L482.7 1439.1 L482.8 1443.1 L482.9 1446.8 L483.0 1450.0 L483.3 1458.9 L483.5 1467.4 L483.8 1474.8 L484.1 1480.7 L484.3 1484.6 L484.6 1486.0 L484.9 1484.6 L485.2 1480.8 L485.5 1474.9 L485.7 1467.5 L486.0 1459.1 L486.3 1450.0 L486.4 1446.9 L486.5 1443.3 L486.6 1439.2 L486.7 1434.6 L486.7 1429.7 L486.8 1424.4 L486.9 1418.8 L487.0 1412.8 L487.1 1406.6 L487.2 1400.1 L487.3 1393.4 L487.4 1386.4 L487.4 1379.4 L487.5 1372.1 L487.6 1364.8 L487.7 1357.4 L487.8 1350.0 L487.9 1345.4 L487.9 1340.7 L488.0 1335.7 L488.0 1330.5 L488.1 1325.2 L488.1 1319.7 L488.2 1314.0 L488.2 1308.2 L488.3 1302.3 L488.3 1296.3 L488.4 1290.2 L488.4 1284.1 L488.5 1277.8 L488.5 1271.6 L488.6 1265.2 L488.6 1258.9 L488.7 1252.6 L488.7 1246.3 L488.8 1240.0 L488.8 1234.5 L488.9 1229.1 L488.9 1223.7 L489.0 1218.3 L489.0 1212.9 L489.1 1207.4 L489.1 1201.8 L489.2 1196.1 L489.2 1190.3 L489.3 1184.2 L489.3 1178.0 L489.4 1171.5 L489.4 1164.6 L489.5 1157.5 L489.5 1150.0 L489.5 1145.4 L489.6 1140.2 L489.6 1134.6 L489.6 1128.5 L489.6 1122.2 L489.7 1115.6 L489.7 1108.8 L489.7 1101.9 L489.7 1095.0 L489.8 1088.1 L489.8 1081.3 L489.8 1074.7 L489.8 1068.4 L489.9 1062.4 L489.9 1056.8 L489.9 1051.6 L489.9 1047.0 L490.0 1043.1 L490.0 1039.8 L490.1 1030.5 L490.2 1021.9 L490.3 1014.0 L490.4 1006.7 L490.4 999.9 L490.5 993.7 L490.6 987.9 L490.7 982.6 L490.8 977.5 L490.9 972.8 L491.0 968.4 L491.0 964.1 L491.1 960.0 L491.2 956.0 L491.3 952.0 L491.4 948.0 L491.6 939.5 L491.8 930.9 L492.0 922.4 L492.1 913.9 L492.3 905.5 L492.5 897.2 L492.7 889.2 L492.9 881.4 L493.1 874.0 L493.2 866.9 L493.4 860.3 L493.6 854.1 L493.8 848.4 L494.0 843.3 L494.2 838.9 L494.4 835.2 L494.5 832.2 L494.7 829.9 L494.9 828.6 L495.1 828.1 L495.6 828.8 L496.0 831.0 L496.5 834.4 L496.9 838.8 L497.4 844.2 L497.8 850.4 L498.3 857.3 L498.7 864.6 L499.2 872.3 L499.6 880.2 L500.1 888.2 L500.5 896.0 L501.0 903.6 L501.3 908.1 L501.5 912.9 L501.8 918.2 L502.0 923.7 L502.3 929.5 L502.6 935.6 L502.8 941.9 L503.1 948.3 L503.3 954.9 L503.6 961.6 L503.9 968.3 L504.1 975.0 L504.4 981.7 L504.7 988.4 L504.9 995.0 L505.2 1001.4 L505.4 1007.7 L505.7 1013.8 L506.0 1019.6 L506.2 1025.2 L506.5 1030.4 L506.7 1035.3 L507.0 1039.8 L507.5 1047.5 L507.9 1055.5 L508.4 1063.6 L508.8 1071.6 L509.3 1079.4 L509.8 1086.7 L510.2 1093.4 L510.7 1099.2 L511.1 1104.1 L511.6 1107.8 L512.0 1110.2 L512.5 1111.0 L513.1 1110.4 L513.8 1108.8 L514.5 1106.1 L515.1 1102.4 L515.8 1097.7 L516.4 1092.0 L517.0 1085.4 L517.7 1077.9 L518.3 1069.6 L519.0 1060.4 L519.6 1050.5 L520.3 1039.8 L520.4 1037.0 L520.6 1033.4 L520.7 1029.0 L520.8 1024.0 L521.0 1018.5 L521.1 1012.5 L521.3 1006.1 L521.4 999.5 L521.5 992.7 L521.7 985.8 L521.8 978.9 L522.0 972.1 L522.1 965.5 L522.2 959.3 L522.4 953.4 L522.5 948.0 L522.7 941.5 L522.8 934.7 L523.0 927.7 L523.2 920.6 L523.3 913.5 L523.5 906.7 L523.7 900.1 L523.9 894.0 L524.0 888.4 L524.2 883.5 L524.4 879.4 L524.5 876.2 L524.7 874.0 L525.8 864.8 L527.0 858.2 L528.1 854.0 L529.2 851.8 L531.1 849.9 L532.9 848.6 L534.8 847.7 L536.6 847.4 L538.3 847.7 L540.0 848.5 L541.8 849.7 L543.5 851.2 L545.2 852.9 L546.9 854.8 L548.8 857.9 L550.6 862.2 L552.4 866.9 L554.3 871.0 L556.1 874.8 L558.0 877.0 L559.7 873.5 L561.5 866.7 L563.2 862.2 L565.2 860.7 L567.1 859.6 L569.1 859.2 L571.1 859.5 L573.1 860.2 L575.0 861.5 L577.0 863.2 L579.0 865.4 L581.0 868.1 L582.1 871.3 L583.2 876.9 L584.3 883.2 L585.4 888.8 L586.6 895.0 L587.9 900.9 L589.1 903.6 L590.4 901.3 L591.7 895.5 L593.0 888.3 L594.3 881.4 L595.4 875.1 L596.5 867.8 L597.6 861.7 L598.7 859.2 L600.7 859.7 L602.7 860.9 L604.7 862.2 L606.7 863.9 L608.6 866.1 L610.6 868.5 L612.6 870.9 L614.5 872.8 L616.5 874.0 L618.4 874.5 L620.2 874.9 L622.0 875.2 L623.9 875.4 L625.8 875.6 L627.6 875.9 L629.4 876.4 L631.3 877.0 L633.1 878.6 L634.9 881.6 L636.6 885.8 L638.4 890.8 L640.2 896.2 L641.4 900.9 L642.6 907.2 L643.7 914.1 L644.9 920.6 L646.1 925.8 L648.1 933.1 L650.0 939.4 L652.0 942.1 L652.4 940.5 L652.9 936.4 L653.3 930.4 L653.7 923.4 L654.1 916.1 L654.6 909.2 L655.0 903.6 L655.6 896.6 L656.2 889.1 L656.7 882.3 L657.3 877.4 L657.9 875.5 L659.4 875.9 L660.9 877.0 L662.4 878.5 L664.2 883.3 L666.1 891.3 L667.9 898.8 L669.8 902.1 L671.6 899.8 L673.5 894.5 L675.4 888.1 L677.2 882.9 L679.1 879.3 L680.9 876.0 L682.8 872.9 L684.6 869.6 L686.4 866.1 L688.2 862.5 L689.9 858.8 L691.7 855.2 L693.5 851.8 L695.5 847.5 L697.4 843.3 L699.4 841.4 L701.2 841.5 L703.0 841.6 L704.7 841.9 L706.5 842.4 L708.3 842.9 L710.3 847.4 L712.2 855.1 L714.2 859.2 L716.2 858.9 L718.1 858.0 L720.1 856.7 L722.1 855.1 L724.0 853.4 L726.0 851.8 L728.0 849.8 L730.0 847.2 L732.0 844.4 L733.9 841.8 L735.9 839.7 L737.9 838.5 L739.6 838.0 L741.3 837.6 L742.9 837.3 L744.6 837.1 L746.3 837.0 L748.2 837.2 L750.1 837.9 L752.0 838.8 L753.9 839.8 L755.8 840.8 L757.7 841.7 L759.6 842.2 L761.5 842.5 L763.4 842.7 L765.3 842.8 L767.2 842.9 L769.1 843.1 L771.0 843.3 L772.9 843.6 L774.8 844.3 L776.7 845.5 L778.6 847.0 L780.5 848.7 L782.4 850.3 L784.3 851.6 L786.2 852.5 L788.1 853.0 L789.9 853.5 L791.8 853.8 L793.6 854.1 L795.5 854.4 L797.3 854.8 L799.1 855.1 L801.0 855.5 L802.7 855.9 L804.5 856.3 L806.2 856.7 L807.9 857.2 L809.7 857.7 L811.4 858.4 L813.2 859.7 L815.0 861.5 L816.7 863.6 L818.5 865.2 L820.3 865.8 L822.1 864.7 L823.9 861.9 L825.6 858.6 L827.4 855.6 L829.2 854.0 L831.1 853.4 L832.9 852.9 L834.8 852.6 L836.6 852.5 L838.4 853.1 L840.2 854.8 L841.9 857.4 L843.7 860.7 L845.5 864.4 L846.6 867.5 L847.7 871.8 L848.8 877.2 L849.9 883.6 L850.5 887.9 L851.1 893.2 L851.7 899.4 L852.3 906.1 L852.9 913.2 L853.3 917.9 L853.6 923.1 L854.0 928.7 L854.3 934.6 L854.7 940.6 L855.1 946.5 L855.4 952.2 L855.8 957.6 L856.2 964.3 L856.7 971.5 L857.1 979.1 L857.6 986.9 L858.0 994.7 L858.5 1002.2 L858.9 1009.4 L859.4 1016.0 L859.8 1021.8 L860.3 1026.6 L860.7 1030.3 L861.2 1032.7 L861.6 1033.5 L861.9 1033.0 L862.2 1031.4 L862.5 1028.8 L862.8 1025.3 L863.1 1020.9 L863.4 1015.6 L863.6 1009.5 L863.9 1002.5 L864.2 994.9 L864.5 986.5 L864.8 977.5 L865.1 967.8 L865.4 957.6 L865.5 953.9 L865.6 948.8 L865.6 942.7 L865.7 935.9 L865.8 928.6 L865.9 921.3 L866.0 914.3 L866.0 908.0 L866.1 902.5 L866.2 898.4 L866.4 889.5 L866.6 881.1 L866.8 873.5 L867.1 867.0 L867.3 861.9 L867.5 858.5 L867.7 857.0 L869.5 854.7 L871.4 854.0 L872.0 855.0 L872.7 857.9 L873.3 862.4 L874.0 868.2 L874.6 875.0 L875.2 882.5 L875.9 890.4 L876.5 898.4 L876.8 902.3 L877.1 906.4 L877.4 910.8 L877.7 915.7 L878.0 921.0 L878.3 926.9 L878.6 933.4 L878.9 940.7 L879.2 948.7 L879.5 957.6 L879.6 961.5 L879.7 966.7 L879.8 973.0 L879.9 980.0 L880.0 987.5 L880.1 995.2 L880.2 1002.8 L880.3 1010.1 L880.4 1016.6 L880.5 1022.2 L880.6 1026.6 L880.7 1029.4 L880.8 1030.4 L881.2 1029.8 L881.5 1028.2 L881.9 1025.5 L882.2 1021.9 L882.6 1017.4 L882.9 1012.0 L883.3 1006.0 L883.6 999.2 L884.0 991.8 L884.3 983.9 L884.7 975.5 L885.0 966.7 L885.4 957.6 L885.5 954.3 L885.6 950.4 L885.7 946.0 L885.9 941.1 L886.0 935.8 L886.1 930.1 L886.2 924.1 L886.3 917.7 L886.4 911.2 L886.6 904.5 L886.7 897.6 L886.8 890.6 L886.9 883.6 L887.0 878.3 L887.0 871.9 L887.1 864.8 L887.2 857.7 L887.3 851.1 L887.4 845.5 L887.4 841.3 L887.5 839.2 L888.5 829.4 L889.6 824.3 L890.6 822.9 L892.3 825.8 L894.1 832.2 L895.8 839.2 L897.3 844.9 L898.7 851.2 L900.2 857.0 L901.7 863.0 L903.2 869.3 L904.6 874.2 L906.1 876.2 L907.3 874.2 L908.5 869.2 L909.7 862.7 L910.9 856.1 L912.1 851.0 L913.6 845.8 L915.0 841.2 L916.5 839.2 L918.4 841.0 L920.2 845.5 L922.0 851.3 L923.9 857.0 L925.4 861.1 L926.8 865.5 L928.3 870.5 L929.8 876.2 L930.8 881.7 L931.8 889.1 L932.8 897.1 L933.7 904.3 L934.7 909.6 L935.7 911.7 L936.1 910.6 L936.5 907.5 L936.8 902.8 L937.2 896.9 L937.6 890.1 L938.0 883.0 L938.3 875.7 L938.7 868.8 L939.0 863.4 L939.2 856.8 L939.5 849.9 L939.7 843.5 L940.0 838.6 L940.2 836.2 L941.9 831.0 L943.7 828.2 L945.4 827.4 L947.0 828.4 L948.7 830.9 L950.4 833.8 L952.0 836.2 L953.9 838.4 L955.7 840.6 L957.5 842.3 L959.4 843.0 L961.1 842.6 L962.9 841.4 L964.6 839.7 L966.3 837.6 L968.1 835.4 L969.8 833.3 L971.6 830.9 L973.4 827.9 L975.1 824.9 L976.9 822.1 L978.7 820.0 L980.6 818.2 L982.4 816.5 L984.2 815.3 L986.1 814.8 L987.9 815.2 L989.7 816.1 L991.4 817.4 L993.2 818.8 L995.0 820.0 L996.9 821.3 L998.7 822.7 L1000.5 823.9 L1002.4 824.4 L1004.2 823.1 L1006.1 820.0 L1007.9 816.5 L1009.8 814.0 L1011.8 812.3 L1013.7 810.9 L1015.7 810.3 L1017.6 810.5 L1019.5 811.1 L1021.4 812.0 L1023.3 813.1 L1025.2 814.3 L1027.1 815.7 L1029.0 817.0 L1030.8 818.9 L1032.7 821.4 L1034.6 823.6 L1036.4 824.5 L1038.2 824.2 L1040.0 823.5 L1041.8 822.5 L1043.6 821.3 L1045.3 820.1 L1047.1 818.9 L1048.9 817.9 L1050.7 817.2 L1052.5 816.9 L1054.4 817.3 L1056.3 818.2 L1058.2 819.5 L1060.2 821.1 L1062.1 822.6 L1064.0 823.9 L1065.9 824.8 L1067.8 825.2 L1069.7 825.0 L1071.7 824.5 L1073.6 823.7 L1075.6 822.8 L1077.5 821.8 L1079.4 820.7 L1081.4 819.8 L1083.3 819.0 L1085.3 818.5 L1087.2 818.3 L1089.2 818.6 L1091.2 819.5 L1093.2 820.8 L1095.2 822.3 L1097.2 824.0 L1099.2 825.5 L1101.2 826.8 L1103.2 827.7 L1105.2 828.0 L1107.0 827.7 L1108.8 826.7 L1110.6 825.4 L1112.4 823.7 L1114.2 821.9 L1116.1 820.1 L1117.9 818.4 L1119.7 817.0 L1121.5 816.0 L1123.3 815.5 L1125.3 815.3 L1127.3 815.2 L1129.3 815.1 L1131.3 814.9 L1133.3 814.8 L1135.3 814.7 L1137.3 814.6 L1139.3 814.5 L1141.3 814.4 L1143.3 814.4 L1145.3 814.3 L1147.3 814.2 L1149.3 814.2 L1151.3 814.2 L1153.3 814.1 L1155.3 814.1 L1157.3 814.1 L1159.3 814.1 L1161.3 814.1 L1163.2 814.2 L1165.2 814.3 L1167.2 814.4 L1169.1 814.6 L1171.1 814.8 L1173.1 815.0 L1175.0 815.2 L1177.0 815.4 L1179.0 815.7 L1180.9 815.9 L1182.9 816.2 L1184.9 816.5 L1186.8 816.7 L1188.8 817.0 L1190.8 817.2 L1192.7 817.4 L1194.7 817.6 L1196.7 817.8 L1198.6 818.0 L1200.6 818.1 L1202.6 818.2 L1204.5 818.3 L1206.5 818.3 L1208.5 818.3 L1210.5 818.3 L1212.4 818.3 L1214.4 818.3 L1216.4 818.2 L1218.4 818.2 L1220.4 818.2 L1222.4 818.1 L1224.3 818.1 L1226.3 818.0 L1228.3 818.0 L1230.3 817.9 L1232.3 817.9 L1234.2 817.8 L1236.2 817.7 L1238.2 817.7 L1240.2 817.6 L1242.2 817.6 L1244.2 817.5 L1246.1 817.4 L1248.1 817.4 L1250.1 817.3 L1252.1 817.2 L1254.1 817.2 L1256.1 817.1 L1258.0 817.0 L1260.0 817.0 L1262.0 816.9 L1263.9 816.8 L1265.9 816.8 L1267.8 816.7 L1269.8 816.7 L1271.7 816.6 L1273.7 816.6 L1275.6 816.5 L1277.6 816.5 L1279.5 816.4 L1281.5 816.4 L1283.4 816.3 L1285.3 816.3 L1287.3 816.2 L1289.2 816.1 L1291.2 816.0 L1293.1 816.0 L1295.1 815.9 L1297.0 815.7 L1299.0 815.6 L1300.9 815.5 L1302.8 815.3 L1304.6 814.8 L1306.5 814.2 L1308.3 813.6 L1310.2 812.9 L1312.0 812.3 L1313.9 811.8 L1315.7 811.4 L1317.6 811.3 L1319.6 811.3 L1321.6 811.3 L1323.5 811.4 L1325.5 811.4 L1327.5 811.5 L1329.5 811.6 L1331.5 811.6 L1333.4 811.7 L1335.4 811.8 L1337.4 812.0 L1339.4 812.1 L1341.4 812.2 L1343.4 812.3 L1345.3 812.4 L1347.3 812.6 L1349.3 812.7 L1351.3 812.8 L1353.3 812.9 L1355.2 813.1 L1357.2 813.2 L1359.2 813.3 L1361.2 813.4 L1363.2 813.6 L1365.1 813.7 L1367.1 813.9 L1369.1 814.0 L1371.1 814.2 L1373.1 814.4 L1375.0 814.6 L1377.0 814.7 L1379.0 814.9 L1381.0 815.1 L1383.0 815.2 L1385.0 815.4 L1386.9 815.5 L1388.9 815.7 L1390.9 815.8 L1392.9 815.9 L1394.9 816.0 L1396.8 816.0 L1398.8 816.1 L1400.8 816.1 L1402.8 816.1 L1404.8 816.1 L1406.8 816.1 L1408.7 816.1 L1410.7 816.1 L1412.7 816.1 L1414.7 816.1 L1416.7 816.0 L1418.6 816.0 L1420.6 816.0 L1422.6 816.0 L1424.6 816.0 L1426.6 816.0 L1428.6 815.9 L1430.5 815.9 L1432.5 815.9 L1434.5 815.9 L1436.5 815.9 L1438.5 815.8 L1440.5 815.8 L1442.4 815.8 L1444.4 815.8 L1446.4 815.8 L1448.4 815.7 L1450.4 815.7 L1452.4 815.7 L1454.3 815.7 L1456.3 815.7 L1458.3 815.6 L1460.3 815.6 L1462.3 815.6 L1464.3 815.6 L1466.2 815.6 L1468.2 815.6 L1470.2 815.5 L1472.2 815.5 L1474.2 815.5 L1476.2 815.5 L1478.1 815.5 L1480.1 815.5 L1482.1 815.5 L1484.1 815.5 L1486.1 815.5 L1488.1 815.6 L1490.0 815.7 L1492.0 815.8 L1494.0 816.0 L1496.0 816.2 L1497.9 816.5 L1499.9 816.7 L1501.9 817.0 L1503.9 817.2 L1505.9 817.5 L1507.8 817.8 L1509.8 818.0 L1511.8 818.3 L1513.5 818.5 L1515.3 818.8 L1517.0 819.1 L1518.7 819.4 L1520.5 819.7 L1522.2 820.0 L1524.0 820.3 L1525.8 820.7 L1527.6 821.0 L1529.4 821.3 L1531.2 821.7 L1533.0 822.2 L1534.8 822.7 L1536.6 823.3 L1538.5 824.1 L1540.5 825.3 L1542.5 826.9 L1544.4 828.9 L1545.9 831.4 L1547.3 835.3 L1548.8 840.0 L1549.9 844.1 L1551.1 849.3 L1552.2 856.6 L1552.6 860.3 L1552.9 865.4 L1553.3 871.4 L1553.7 877.9 L1554.0 884.2 L1554.4 889.9 L1554.8 896.3 L1555.2 903.5 L1555.6 910.9 L1556.1 918.0 L1556.5 924.4 L1556.9 929.6 L1557.3 933.0 L1557.7 934.3 L1558.5 932.6 L1559.2 928.2 L1560.0 921.9 L1560.7 914.6 L1561.5 907.4 L1562.2 901.0 L1562.9 895.1 L1563.7 888.8 L1564.4 882.5 L1565.1 876.6 L1565.9 871.5 L1566.6 867.7 L1567.7 863.2 L1568.8 861.0 L1570.5 862.1 L1572.2 864.9 L1573.8 868.8 L1575.5 873.3 L1576.6 877.2 L1577.7 882.4 L1578.8 888.5 L1579.9 894.9 L1581.0 901.0 L1581.9 905.5 L1582.8 910.1 L1583.6 914.8 L1584.5 920.0 L1585.3 924.4 L1586.2 929.3 L1587.0 938.0 L1587.2 941.7 L1587.3 947.6 L1587.4 954.3 L1587.6 960.0 L1587.8 966.4 L1588.0 972.8 L1588.2 979.0 L1588.4 984.9 L1588.6 990.4 L1588.8 995.5 L1589.0 999.9 L1589.2 1003.6 L1589.7 1011.5 L1590.2 1018.2 L1590.8 1023.9 L1591.3 1028.8 L1591.8 1033.0 L1592.5 1038.6 L1593.2 1041.5 L1593.9 1038.6 L1594.6 1033.0 L1595.1 1028.7 L1595.7 1023.8 L1596.2 1018.1 L1596.8 1011.5 L1597.3 1003.6 L1597.5 1000.0 L1597.7 995.7 L1597.9 991.0 L1598.2 985.7 L1598.4 979.9 L1598.6 973.7 L1598.8 967.0 L1599.0 960.0 L1599.1 954.7 L1599.2 948.4 L1599.4 942.4 L1599.5 938.0 L1599.8 931.2 L1600.2 926.3 L1600.5 922.2 L1600.8 918.0 L1601.2 912.5 L1601.7 907.4 L1602.1 901.0 L1602.3 895.9 L1602.5 889.2 L1602.8 882.2 L1603.0 876.5 L1603.2 873.3 L1605.1 864.6 L1606.9 860.3 L1608.8 856.6 L1610.5 852.7 L1612.2 849.2 L1613.8 845.7 L1615.5 842.2 L1617.0 838.4 L1618.4 834.5 L1619.9 832.2 L1621.7 831.1 L1623.6 830.3 L1625.4 830.0 L1627.4 830.7 L1629.3 832.5 L1631.2 834.9 L1633.2 837.7 L1635.1 840.8 L1636.9 845.0 L1638.8 851.0 L1639.6 854.9 L1640.5 860.5 L1641.3 867.7 L1641.6 872.1 L1642.0 878.2 L1642.3 884.7 L1642.7 890.7 L1643.0 895.0 L1643.9 903.0 L1644.8 906.8 L1645.8 902.9 L1646.8 895.0 L1647.2 890.7 L1647.7 885.3 L1648.1 879.3 L1648.6 873.3 L1649.0 867.7 L1649.5 861.5 L1650.0 855.1 L1650.5 849.5 L1651.0 845.5 L1652.1 839.5 L1653.2 835.0 L1654.3 833.3 L1656.2 835.3 L1658.0 840.0 L1659.9 845.5 L1661.0 850.2 L1662.1 855.6 L1663.2 858.2 L1665.0 855.1 L1666.9 848.6 L1668.7 843.3 L1670.4 840.8 L1672.1 838.8 L1673.7 836.9 L1675.4 834.4 L1676.9 830.7 L1678.3 826.2 L1679.8 823.3 L1681.6 821.8 L1683.4 820.6 L1685.1 819.7 L1686.9 819.1 L1688.7 818.9 L1690.5 818.9 L1692.4 819.0 L1694.2 819.1 L1696.1 819.2 L1698.0 819.3 L1699.8 819.4 L1701.7 819.6 L1703.6 819.8 L1705.5 820.0 L1707.5 820.3 L1709.4 820.6 L1711.3 821.0 L1713.2 821.4 L1715.1 821.8 L1717.0 822.2 L1718.9 822.6 L1720.9 823.1 L1722.8 823.5 L1724.7 824.0 L1726.6 824.4 L1728.6 824.9 L1730.5 825.4 L1732.5 826.0 L1734.4 826.6 L1736.4 827.2 L1738.4 827.9 L1740.3 828.6 L1742.3 829.2 L1744.2 829.9 L1746.2 830.6 L1748.1 831.3 L1750.1 831.9 L1752.1 832.5 L1754.0 833.0 L1756.0 833.6 L1757.9 834.0 L1759.9 834.4 L1761.9 834.8 L1763.8 835.1 L1765.8 835.5 L1767.7 835.9 L1769.7 836.2 L1771.7 836.6 L1773.6 836.9 L1775.6 837.2 L1777.5 837.5 L1779.5 837.8 L1781.4 838.0 L1783.4 838.3 L1785.4 838.4 L1787.3 838.6 L1789.3 838.7 L1791.2 838.8 L1793.2 838.8 L1795.2 838.8 L1797.1 838.7 L1799.1 838.6 L1801.0 838.4 L1803.0 838.2 L1805.0 838.0 L1806.9 837.8 L1808.9 837.5 L1810.8 837.2 L1812.8 836.9 L1814.7 836.5 L1816.7 836.2 L1818.7 835.8 L1820.6 835.5 L1822.6 835.1 L1824.5 834.8 L1826.5 834.4 L1828.5 834.0 L1830.4 833.6 L1832.4 833.2 L1834.3 832.7 L1836.3 832.2 L1838.3 831.7 L1840.2 831.2 L1842.2 830.6 L1844.1 830.0 L1846.1 829.5 L1848.0 828.9 L1850.0 828.3 L1852.0 827.7 L1853.9 827.1 L1855.9 826.6 L1857.8 826.0 L1859.8 825.5 L1861.8 825.0 L1863.7 824.4 L1865.7 823.9 L1867.6 823.3 L1869.6 822.8 L1871.6 822.2 L1873.5 821.6 L1875.5 821.1 L1877.4 820.5 L1879.4 820.0 L1881.3 819.4 L1883.3 818.9 L1885.3 818.4 L1887.2 817.9 L1889.2 817.5 L1891.1 817.0 L1893.1 816.6 L1895.1 816.2 L1897.0 815.8 L1899.0 815.3 L1900.9 814.9 L1902.9 814.4 L1904.9 814.0 L1906.8 813.6 L1908.8 813.1 L1910.7 812.7 L1912.7 812.4 L1914.6 812.0 L1916.6 811.7 L1918.6 811.5 L1920.5 811.3 L1922.5 811.1 L1924.4 811.0 L1926.4 811.0 L1928.3 811.0 L1930.3 811.0 L1932.2 811.0 L1934.1 811.0 L1936.1 811.0 L1938.0 811.0 L1939.9 811.1 L1941.8 811.1 L1943.8 811.1 L1945.7 811.1 L1947.6 811.2 L1949.6 811.2 L1951.5 811.2 L1953.4 811.2 L1955.4 811.3 L1957.3 811.3 L1959.2 811.3 L1961.1 811.3 L1963.1 811.4 L1965.0 811.4 L1966.9 811.4 L1968.9 811.5 L1970.8 811.5 L1972.8 811.5 L1974.7 811.6 L1976.7 811.6 L1978.6 811.6 L1980.6 811.7 L1982.6 811.7 L1984.5 811.8 L1986.5 811.8 L1988.4 811.9 L1990.4 811.9 L1992.3 812.0 L1994.3 812.1 L1996.3 812.1 L1998.2 812.2 L2000.2 812.2 L2002.1 812.3 L2004.1 812.4 L2006.1 812.4 L2008.0 812.5 L2010.0 812.5 L2011.9 812.6 L2013.9 812.7 L2015.9 812.7 L2017.8 812.8 L2019.8 812.8 L2021.7 812.9 L2023.7 813.0 L2025.6 813.0 L2027.6 813.1 L2029.6 813.1 L2031.5 813.2 L2033.5 813.2 L2035.4 813.3 L2037.4 813.3 L2039.4 813.3 L2041.3 813.4 L2043.3 813.4 L2045.2 813.5 L2047.2 813.5 L2049.2 813.6 L2051.1 813.6 L2053.1 813.6 L2055.0 813.7 L2057.0 813.7 L2058.9 813.8 L2060.9 813.8 L2062.9 813.9 L2064.8 813.9 L2066.8 813.9 L2068.7 814.0 L2070.7 814.0 L2072.7 814.1 L2074.6 814.1 L2076.6 814.1 L2078.5 814.2 L2080.5 814.2 L2082.5 814.2 L2084.4 814.3 L2086.4 814.3 L2088.3 814.3 L2090.3 814.3 L2092.2 814.3 L2094.2 814.4 L2096.2 814.4 L2098.1 814.4 L2100.1 814.4 L2102.0 814.4 L2104.0 814.4 L2105.9 814.4 L2107.8 814.4 L2109.7 814.4 L2111.5 814.4 L2113.4 814.4 L2115.3 814.4 L2117.2 814.4 L2119.1 814.4 L2121.0 814.4 L2122.8 814.4 L2124.7 814.4 L2126.6 814.4 L2128.5 814.4"/>
</svg></body></html>
